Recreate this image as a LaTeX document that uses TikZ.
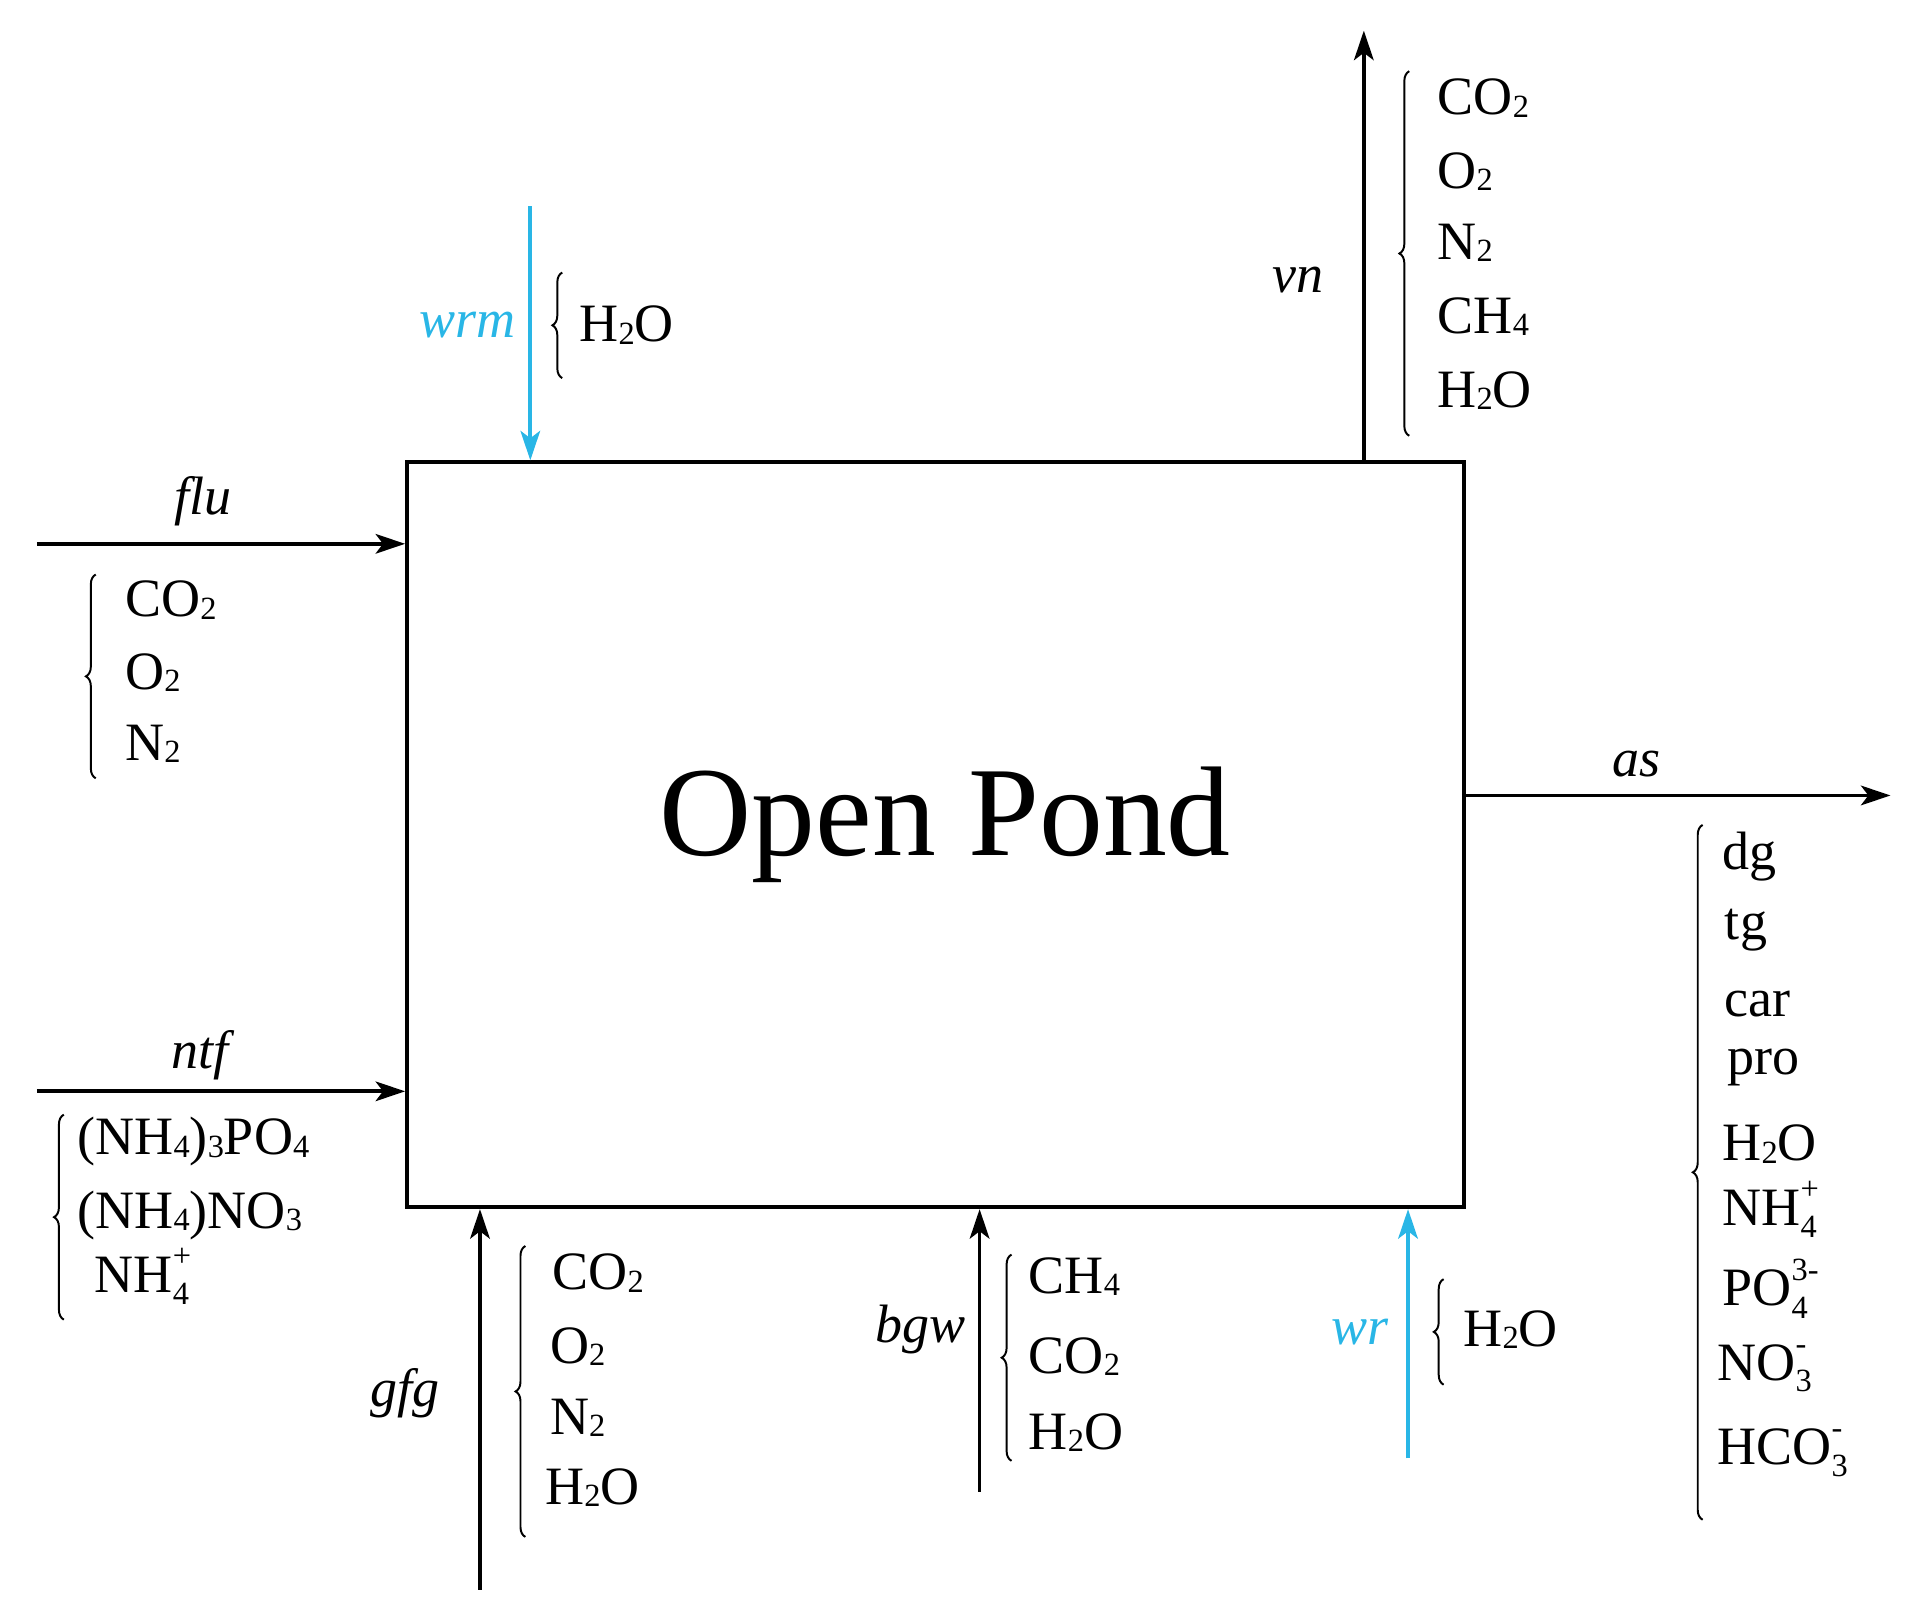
\documentclass[tikz,border=0pt]{standalone}
\usepackage{fontspec}
\setmainfont{Liberation Serif}
\usetikzlibrary{arrows.meta,decorations.pathreplacing}
\definecolor{cy}{RGB}{41,182,230}
\newcommand{\sbs}[1]{\raisebox{-0.1ex}{\scalebox{0.6}{#1}}}
\newcommand{\stk}[2]{\begin{tabular}{@{}l@{}}\raisebox{0.9ex}{\scalebox{0.6}{#2}}\\[-1.75ex]\scalebox{0.6}{#1}\end{tabular}}
\begin{document}
\begin{tikzpicture}[x=1pt,y=-1pt,
 ln/.style={line width=3pt},
 arr/.style={ln,-{Stealth[length=24pt,width=16pt,inset=6pt]}},
 br/.style={line width=1.6pt,decorate,decoration={brace,amplitude=8pt}},
 t/.style={font=\fontsize{44}{48}\selectfont,inner sep=0pt,anchor=west},
 lab/.style={font=\fontsize{44}{48}\selectfont\itshape,inner sep=0pt}]
\useasboundingbox (0,0) rectangle (1560,1306);
\node[draw,ln,minimum width=861pt,minimum height=607pt,anchor=north west,inner sep=0pt] (box) at (330,375) {};
\node[font=\fontsize{104}{110}\selectfont] (title) at (770,672) {Open Pond};
% wrm
\coordinate (wrmS) at (432,168);
\draw[arr,cy] (wrmS) -- (box.north west -| wrmS);
\node[lab,cy] (wrm) at (381,265) {wrm};
\draw[br] (458,308) -- (458,222);
\node[t] (wrmH) at (472,265) {H\sbs{2}O};
% vn
\coordinate (vnE) at (1111,25);
\draw[arr] (box.north west -| vnE) -- (vnE);
\node[lab] (vn) at (1057,228) {vn};
\draw[br] (1148,355) -- (1148,58);
\node[t] (v1) at (1171,80) {CO\sbs{2}};
\node[t] (v2) at (1171,140) {O\sbs{2}};
\node[t] (v3) at (1171,198) {N\sbs{2}};
\node[t] (v4) at (1171,258) {CH\sbs{4}};
\node[t] (v5) at (1171,318) {H\sbs{2}O};
% flu
\coordinate (fluS) at (30,443);
\draw[arr] (fluS) -- (box.north west |- fluS);
\node[lab] (flu) at (165,408) {flu};
\draw[br] (78,634) -- (78,468);
\node[t] (f1) at (102,489) {CO\sbs{2}};
\node[t] (f2) at (102,548) {O\sbs{2}};
\node[t] (f3) at (102,606) {N\sbs{2}};
% ntf
\coordinate (ntfS) at (30,889);
\draw[arr] (ntfS) -- (box.north west |- ntfS);
\node[lab] (ntf) at (163,860) {ntf};
\draw[br] (52,1075) -- (52,908);
\node[t] (n1) at (63,930) {(NH\sbs{4})\sbs{3}PO\sbs{4}};
\node[t] (n2) at (63,990) {(NH\sbs{4})NO\sbs{3}};
\node[t] (n3) at (77,1047) {NH\stk{4}{+}};
% as
\coordinate (asE) at (1540,648);
\draw[arr] (box.north east |- asE) -- (asE);
\node[lab] (as) at (1333,622) {as};
\draw[br] (1387,1238) -- (1387,672);
\node[t] (a1) at (1403,698) {dg};
\node[t] (a2) at (1405,758) {tg};
\node[t] (a3) at (1405,818) {car};
\node[t] (a4) at (1407,870) {pro};
\node[t] (a5) at (1403,932) {H\sbs{2}O};
\node[t] (a6) at (1403,992) {NH\stk{4}{+}};
\node[t] (a7) at (1403,1057) {PO\stk{4}{3-}};
\node[t] (a8) at (1399,1118) {NO\stk{3}{-}};
\node[t] (a9) at (1399,1187) {HCO\stk{3}{-}};
% gfg
\coordinate (gfgS) at (391,1295);
\draw[arr] (gfgS) -- (box.south west -| gfgS);
\node[lab] (gfg) at (330,1135) {gfg};
\draw[br] (428,1252) -- (428,1015);
\node[t] (g1) at (450,1037) {CO\sbs{2}};
\node[t] (g2) at (448,1097) {O\sbs{2}};
\node[t] (g3) at (448,1155) {N\sbs{2}};
\node[t] (g4) at (444,1212) {H\sbs{2}O};
% bgw
\coordinate (bgwS) at (798,1215);
\draw[arr] (bgwS) -- (box.south west -| bgwS);
\node[lab] (bgw) at (750,1083) {bgw};
\draw[br] (824,1190) -- (824,1022);
\node[t] (b1) at (838,1040) {CH\sbs{4}};
\node[t] (b2) at (838,1105) {CO\sbs{2}};
\node[t] (b3) at (838,1167) {H\sbs{2}O};
% wr
\coordinate (wrS) at (1147,1188);
\draw[arr,cy] (wrS) -- (box.south west -| wrS);
\node[lab,cy] (wr) at (1108,1085) {wr};
\draw[br] (1176,1128) -- (1176,1042);
\node[t] (w1) at (1192,1083) {H\sbs{2}O};
\end{tikzpicture}
\end{document}
